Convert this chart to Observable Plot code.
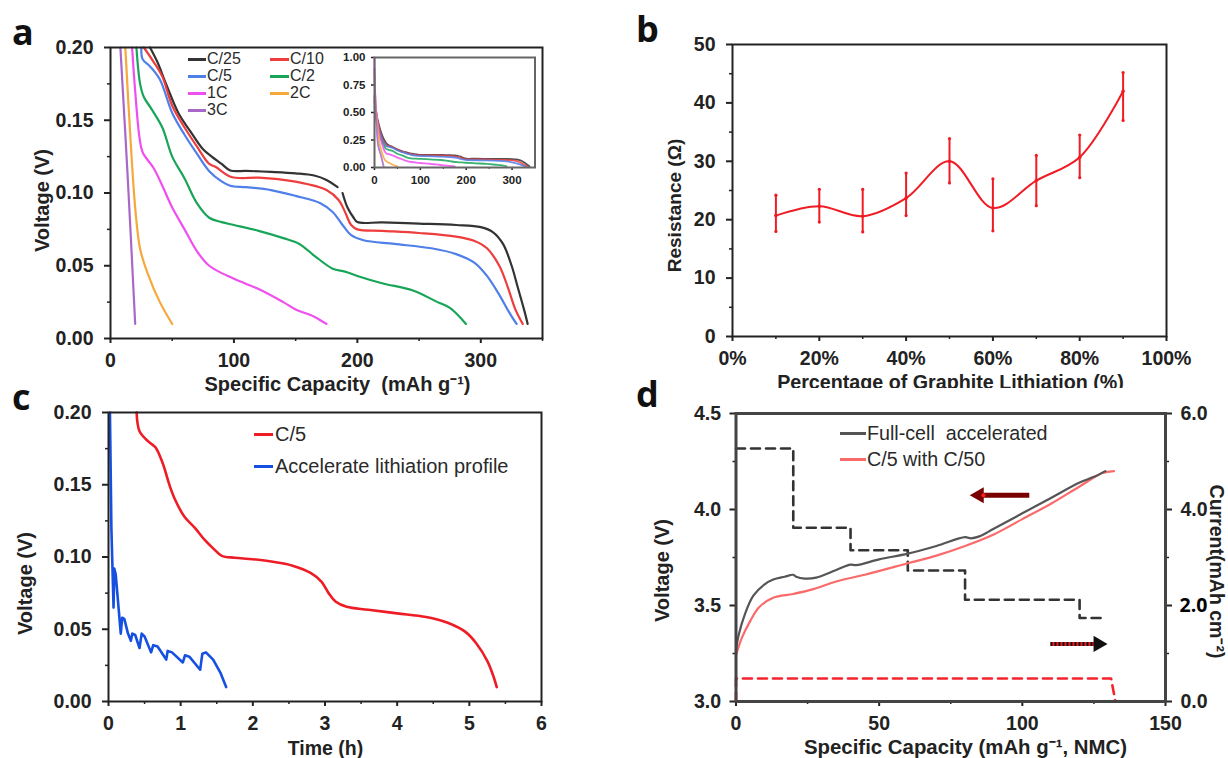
<!DOCTYPE html>
<html><head><meta charset="utf-8">
<script src="https://cdn.jsdelivr.net/npm/d3@7"></script>
<script src="https://cdn.jsdelivr.net/npm/@observablehq/plot@0.6"></script>
<style>
html,body{margin:0;padding:0;background:#fff;}
#page{position:relative;width:1228px;height:758px;overflow:hidden;background:#fff;font-family:"Liberation Sans",Arial,sans-serif;}
#page svg{position:absolute;display:block;max-width:none;}
.letter{position:absolute;font:700 36px "Open Sans",sans-serif;color:#111;line-height:40px;}
.leg{position:absolute;white-space:pre;color:#2a2a2a;line-height:18px;}
</style></head><body><div id="page"></div>
<script>
// ---------- panel a: specific capacity vs voltage ----------
const rates = ["C/25","C/10","C/5","C/2","1C","2C","3C"];
const rateColors = ["#333333","#ee3d3d","#4f7fe8","#18a558","#f04ff0","#f7a83a","#a868c8"];
const c25 = [[32,.2],[38,.19],[45,.175],[55,.155],[65,.142],[75,.13],[82,.125],[90,.12],[97,.1155],[110,.1152],[130,.1145],[150,.1135],[165,.112],[175,.109],[184,.104],[186,NaN],[188,.1],[192,.09],[197,.083],[200,.08],[220,.0798],[250,.079],[280,.078],[300,.0765],[310,.073],[318,.065],[325,.05],[330,.035],[335,.02],[338,.01]];
const c10 = [[27,.2],[35,.19],[42,.18],[50,.16],[60,.145],[70,.132],[80,.12],[85,.118],[98,.111],[120,.1105],[140,.109],[160,.106],[175,.102],[185,.095],[190,.087],[195,.078],[200,.075],[220,.074],[250,.0725],[280,.07],[295,.067],[305,.062],[315,.05],[322,.035],[328,.02],[334,.01]];
const c5 = [[25,.2],[26,.192],[32,.187],[40,.178],[50,.155],[60,.14],[70,.127],[80,.115],[90,.108],[97,.105],[110,.104],[130,.102],[150,.098],[170,.093],[180,.087],[188,.078],[195,.071],[205,.0675],[230,.065],[260,.062],[280,.058],[295,.052],[305,.043],[315,.03],[323,.018],[329,.01]];
const c2 = [[21,.2],[24,.175],[27,.166],[33,.158],[42,.145],[50,.125],[60,.11],[70,.093],[80,.083],[90,.08],[100,.078],[120,.074],[140,.069],[153,.065],[165,.057],[180,.048],[190,.046],[200,.043],[220,.038],[245,.033],[265,.025],[275,.021],[288,.01]];
const c1 = [[17.5,.2],[20,.17],[23.5,.138],[26,.128],[35,.117],[42,.105],[50,.09],[60,.075],[70,.06],[80,.05],[100,.041],[120,.034],[140,.025],[150,.02],[165,.015],[175,.01]];
const c2C = [[12,.2],[16,.14],[20,.09],[24,.0615],[30,.045],[40,.025],[50,.01]];
const c3C = [[8,.2],[14,.11],[20,.01]];
const rateCurves = [c25,c10,c5,c2,c1,c2C,c3C];
// high-voltage start of each curve, seen only in the inset
const head25 = [[0,.65],[3,.52],[10,.38],[20,.26],[28,.21]];
const head10 = [[0,.6],[3,.5],[10,.36],[18,.25],[25,.21]];
const head5 = [[0,.62],[3,.48],[10,.34],[18,.24]];
const head2 = [[0,.55],[3,.45],[10,.32],[17,.23]];
const head1 = [[0,1],[1,.7],[4,.5],[10,.32]];
const head2C = [[0,.85],[3,.55],[8,.32]];
const head3C = [[0,.9],[3,.5]];
const rateHeads = [head25,head10,head5,head2,head1,head2C,head3C];

// ---------- panel b: resistance ----------
const lithiation = [10,20,30,40,50,60,70,80,90];
const resistance = [20.7,22.3,20.6,23.7,30,22,26.7,30.7,42];
const resLow = [18,19.6,17.9,20.7,26.3,18.1,22.4,27.2,37];
const resHigh = [24.2,25.2,25.2,28,33.9,27,31,34.5,45.2];

// ---------- panel c: time vs voltage ----------
const timeC5 = [[.39,.2],[.43,.187],[.55,.18],[.65,.176],[.75,.165],[.85,.149],[.92,.14],[1.05,.128],[1.2,.12],[1.33,.112],[1.45,.106],[1.57,.1008],[1.75,.0995],[2,.0985],[2.3,.0965],[2.55,.094],[2.8,.089],[2.95,.083],[3.05,.075],[3.15,.069],[3.3,.0655],[3.6,.0635],[4,.061],[4.4,.0585],[4.7,.0545],[4.95,.048],[5.1,.04],[5.25,.028],[5.33,.018],[5.38,.01]];
const timeAcc = [[.02,.2],[.04,.12],[.07,.065],[.08,.092],[.1,.088],[.17,.047],[.19,.058],[.22,.057],[.27,.047],[.31,.042],[.33,.047],[.37,.046],[.43,.037],[.46,.047],[.5,.045],[.59,.034],[.62,.039],[.68,.038],[.8,.029],[.82,.035],[.88,.034],[1.03,.027],[1.06,.032],[1.12,.031],[1.27,.022],[1.3,.033],[1.35,.034],[1.45,.029],[1.55,.02],[1.63,.01]];

// ---------- panel d: full cell ----------
const fullCell = [[0,3.27],[1,3.35],[3,3.45],[6,3.55],[10,3.61],[13,3.635],[17,3.65],[20,3.66],[21,3.65],[24,3.64],[28,3.645],[35,3.685],[40,3.713],[42,3.71],[50,3.74],[60,3.77],[70,3.81],[80,3.856],[82,3.85],[85,3.86],[90,3.9],[100,3.98],[110,4.06],[120,4.14],[125,4.17],[129,4.2]];
const c5c50 = [[0,3.24],[2,3.33],[5,3.42],[8,3.49],[13,3.54],[20,3.56],[27,3.585],[35,3.625],[45,3.66],[60,3.72],[70,3.76],[80,3.81],[90,3.87],[100,3.95],[110,4.03],[120,4.12],[128,4.19],[132,4.2]];
const stepCapacity = [0,20,40,60,80,120,129];
const stepCurrent = [5.27,3.62,3.15,2.73,2.12,1.74,1.74];
const flatCapacity = [0,0,131,132.5];
const flatCurrent = [0,.48,.48,0];
const arrowLeft = {from:102.6,to:83.4,volt:4.074};
const arrowRight = {from:110,to:128,current:1.2};
const currentToVolt = c => 3 + c*0.25;

// ---------- helpers ----------
const page = document.getElementById("page");
const FONT = '"Liberation Sans",Arial,sans-serif';
const SMOOTH = "catmull-rom";
function place(svg,left,top){svg.style.left=left+"px";svg.style.top=top+"px";page.appendChild(svg);}
function label(text,box,px,py,opts={}){
  return Plot.text([text],{text:d=>d,frameAnchor:"top-left",dx:px-box.l,dy:py-box.t,textAnchor:"middle",lineAnchor:"middle",...opts});
}
function build(box,{svgTop,svgBottom,svgLeft,svgRight,x,y,marks,fontSize=19.5}){
  const svg = Plot.plot({
    width:svgRight-svgLeft,height:svgBottom-svgTop,
    marginLeft:box.l-svgLeft,marginRight:svgRight-box.r,marginTop:box.t-svgTop,marginBottom:svgBottom-box.b,
    x:{domain:x,label:null},y:{domain:y,label:null},
    style:{fontSize:fontSize+"px",fontWeight:"bold",fontFamily:FONT,color:"#222",background:"transparent",overflow:"hidden"},
    marks
  });
  place(svg,svgLeft,svgTop);
  return svg;
}
function axisX(major,minor,o={}){return [
  Plot.axisX(minor,{anchor:"bottom",tickSize:3,strokeWidth:1.5,fill:"none",label:null}),
  Plot.axisX(major,{anchor:"bottom",tickSize:o.size??5,tickPadding:o.pad??10,strokeWidth:2,label:null,tickFormat:o.fmt})];}
function axisY(major,minor,o={}){return [
  Plot.axisY(minor,{anchor:"left",tickSize:3,strokeWidth:1.5,fill:"none",label:null}),
  Plot.axisY(major,{anchor:"left",tickSize:o.size??6,tickPadding:o.pad??11,strokeWidth:2,label:null,tickFormat:o.fmt})];}
const ticks = (a,b,s)=>d3.range(0,Math.round((b-a)/s)+1).map(i=>+(a+i*s).toFixed(4));
const f2 = d3.format(".2f");
function letter(t,x,y){const d=document.createElement("div");d.className="letter";d.textContent=t;d.style.left=x+"px";d.style.top=y+"px";page.appendChild(d);}
function leg(t,lineX,lineW,textX,cy,color,size,weight){
  const d=document.createElement("div");d.className="leg";d.textContent=t;
  d.style.cssText=`left:${textX}px;top:${cy-9}px;font-size:${size}px;font-weight:${weight||400}`;
  page.appendChild(d);
  const l=document.createElement("div");
  l.style.cssText=`position:absolute;left:${lineX}px;top:${cy-1}px;width:${lineW}px;height:2.5px;background:${color}`;
  page.appendChild(l);
}
const tbl = pts => pts.map(([x,y])=>({x,y}));

// ---------- panel a ----------
{
  const box={l:110,r:542,t:47,b:338};
  build(box,{svgLeft:30,svgRight:560,svgTop:30,svgBottom:396,x:[0,350],y:[0,.2],marks:[
    ...axisX([0,100,200,300],[50,150,250,350]),
    ...axisY(ticks(0,.2,.05),ticks(.025,.175,.05),{fmt:f2}),
    ...rates.map((r,i)=>Plot.line(tbl(rateCurves[i]),{x:"x",y:"y",stroke:rateColors[i],strokeWidth:2.2,curve:SMOOTH})),
    Plot.frame({stroke:"#222",strokeWidth:2}),
    label("Voltage (V)",box,42,200,{rotate:-90,fontSize:20}),
    label("Specific Capacity  (mAh g⁻¹)",box,337,384,{fontSize:20})
  ]});
  // inset
  const ibox={l:374,r:534.5,t:57,b:167};
  build(ibox,{svgLeft:335,svgRight:541,svgTop:48,svgBottom:190,x:[0,350],y:[0,1],fontSize:11.5,marks:[
    Plot.axisX([50,150,250],{anchor:"bottom",tickSize:2,strokeWidth:1,fill:"none",label:null}),
    Plot.axisX([0,100,200,300],{anchor:"bottom",tickSize:3,tickPadding:5,strokeWidth:1.5,label:null}),
    Plot.axisY([0,.25,.5,.75,1],{anchor:"left",tickSize:3,tickPadding:6,strokeWidth:1.5,label:null,tickFormat:f2}),
    ...rates.map((r,i)=>Plot.line(tbl(rateHeads[i].concat(rateCurves[i])),{x:"x",y:"y",stroke:rateColors[i],strokeWidth:1.8,strokeOpacity:.85,curve:SMOOTH})),
    Plot.frame({stroke:"#666",strokeWidth:2})
  ]});
  const rows=[59,76,93,110], colLine=[188,270], colText=[207,290];
  [[0,0,0],[1,1,0],[2,0,1],[3,1,1],[4,0,2],[5,1,2],[6,0,3]].forEach(([i,c,r])=>
    leg(rates[i],colLine[c],colText[c]-colLine[c]-1,colText[c],rows[r],rateColors[i],16));
}

// ---------- panel b ----------
{
  const box={l:732,r:1166,t:44,b:336};
  const rows=lithiation.map((x,i)=>({x,y:resistance[i],lo:resLow[i],hi:resHigh[i]}));
  build(box,{svgLeft:650,svgRight:1196,svgTop:28,svgBottom:388,x:[0,100],y:[0,50],marks:[
    ...axisX(ticks(0,100,20),ticks(10,90,20),{fmt:d=>d+"%"}),
    ...axisY(ticks(0,50,10),ticks(5,45,10)),
    Plot.line(rows,{x:"x",y:"y",stroke:"#f01c24",strokeWidth:2,curve:"catmull-rom"}),
    Plot.ruleX(rows,{x:"x",y1:"lo",y2:"hi",stroke:"#f01c24",strokeWidth:2}),
    Plot.dot(rows,{x:"x",y:"lo",r:1.6,fill:"#f01c24"}),
    Plot.dot(rows,{x:"x",y:"hi",r:1.6,fill:"#f01c24"}),
    Plot.dot(rows,{x:"x",y:"y",r:1.8,fill:"#f01c24"}),
    Plot.frame({stroke:"#222",strokeWidth:2}),
    label("Resistance (Ω)",box,674,205,{rotate:-90,fontSize:19}),
    label("Percentage of Graphite Lithiation (%)",box,950,382,{fontSize:19.7})
  ]});
}

// ---------- panel c ----------
{
  const box={l:108,r:541,t:412,b:701};
  build(box,{svgLeft:5,svgRight:560,svgTop:395,svgBottom:758,x:[0,6],y:[0,.2],marks:[
    ...axisX(ticks(0,6,1),ticks(.5,5.5,1)),
    ...axisY(ticks(0,.2,.05),ticks(.025,.175,.05),{fmt:f2}),
    Plot.line(tbl(timeC5),{x:"x",y:"y",stroke:"#ee1c25",strokeWidth:2.6,curve:SMOOTH}),
    Plot.line(tbl(timeAcc),{x:"x",y:"y",stroke:"#1550e0",strokeWidth:2.6}),
    Plot.frame({stroke:"#222",strokeWidth:2}),
    label("Voltage (V)",box,25,583,{rotate:-90,fontSize:20}),
    label("Time (h)",box,325,748,{fontSize:19.5})
  ]});
  leg("C/5",254,19,275,434,"#ee1c25",20);
  leg("Accelerate lithiation profile",254,19,275,466,"#1550e0",20);
}

// ---------- panel d ----------
{
  const box={l:735.5,r:1165,t:413,b:701};
  const vMajor=ticks(3,4.5,.5), vMinor=ticks(3.25,4.25,.5);
  const stepRows=stepCapacity.map((x,i)=>({x,y:currentToVolt(stepCurrent[i])}));
  const flatRows=flatCapacity.map((x,i)=>({x,y:currentToVolt(flatCurrent[i])}));
  const curTick=[0,4,6].map(currentToVolt);
  const curMinor=[1,3,5].map(currentToVolt);
  const fmtCur=v=>((v-3)*4).toFixed(1);
  const arrowY=currentToVolt(arrowRight.current);
  build(box,{svgLeft:650,svgRight:1228,svgTop:396,svgBottom:758,x:[0,150],y:[3,4.5],marks:[
    ...axisX([0,50,100,150],[25,75,125]),
    ...axisY(vMajor,vMinor,{fmt:d3.format(".1f"),pad:9}),
    Plot.axisY(curMinor,{anchor:"right",tickSize:3,strokeWidth:1.5,fill:"none",label:null}),
    Plot.axisY(curTick,{anchor:"right",tickSize:6,tickPadding:9,strokeWidth:2,label:null,tickFormat:fmtCur}),
    Plot.axisY([currentToVolt(2)],{anchor:"right",tickSize:6,tickPadding:8,strokeWidth:2,label:null,tickFormat:fmtCur,fill:"#000",fontFamily:'"Open Sans",sans-serif'}),
    Plot.line(stepRows,{x:"x",y:"y",stroke:"#333",strokeWidth:2.6,strokeDasharray:"9,6",curve:"step-after"}),
    Plot.line(flatRows,{x:"x",y:"y",stroke:"#f5232e",strokeWidth:2.6,strokeDasharray:"9,6"}),
    Plot.line(tbl(c5c50),{x:"x",y:"y",stroke:"#fb6a6a",strokeWidth:2.2,curve:SMOOTH}),
    Plot.line(tbl(fullCell),{x:"x",y:"y",stroke:"#555",strokeWidth:2.2,curve:SMOOTH}),
    Plot.ruleY([arrowLeft.volt],{x1:arrowLeft.from,x2:arrowLeft.to+2,stroke:"#7a0000",strokeWidth:5}),
    Plot.dot([arrowLeft],{x:d=>d.to+1.5,y:"volt",symbol:"triangle",rotate:-90,r:6,fill:"#7a0000"}),
    Plot.dot([arrowLeft],{x:d=>d.to+3,y:"volt",r:2,fill:"#ff2020"}),
    Plot.ruleY([arrowY],{x1:arrowRight.from,x2:arrowRight.to-2,stroke:"#f01c24",strokeWidth:4}),
    Plot.ruleY([arrowY],{x1:arrowRight.from,x2:arrowRight.to-2,stroke:"#111",strokeWidth:4,strokeDasharray:"2,2"}),
    Plot.dot([arrowRight],{x:d=>d.to-1.5,y:()=>arrowY,symbol:"triangle",rotate:90,r:6,fill:"#111"}),
    Plot.frame({stroke:"#444",strokeWidth:3}),
    label("Voltage (V)",box,662,570,{rotate:-90,fontSize:20}),
    label("Current(mAh cm⁻²)",box,1216,571,{rotate:90,fontSize:19.5}),
    label("Specific Capacity (mAh g⁻¹, NMC)",box,965,747,{fontSize:20.4})
  ]});
  leg("Full-cell  accelerated",840,26,867,433,"#555",19.7);
  leg("C/5 with C/50",840,26,867,459,"#fb6a6a",19.7);
}

letter("a",12,12);
letter("b",636,9);
letter("c",12,377);
letter("d",636,374);
</script></body></html>
